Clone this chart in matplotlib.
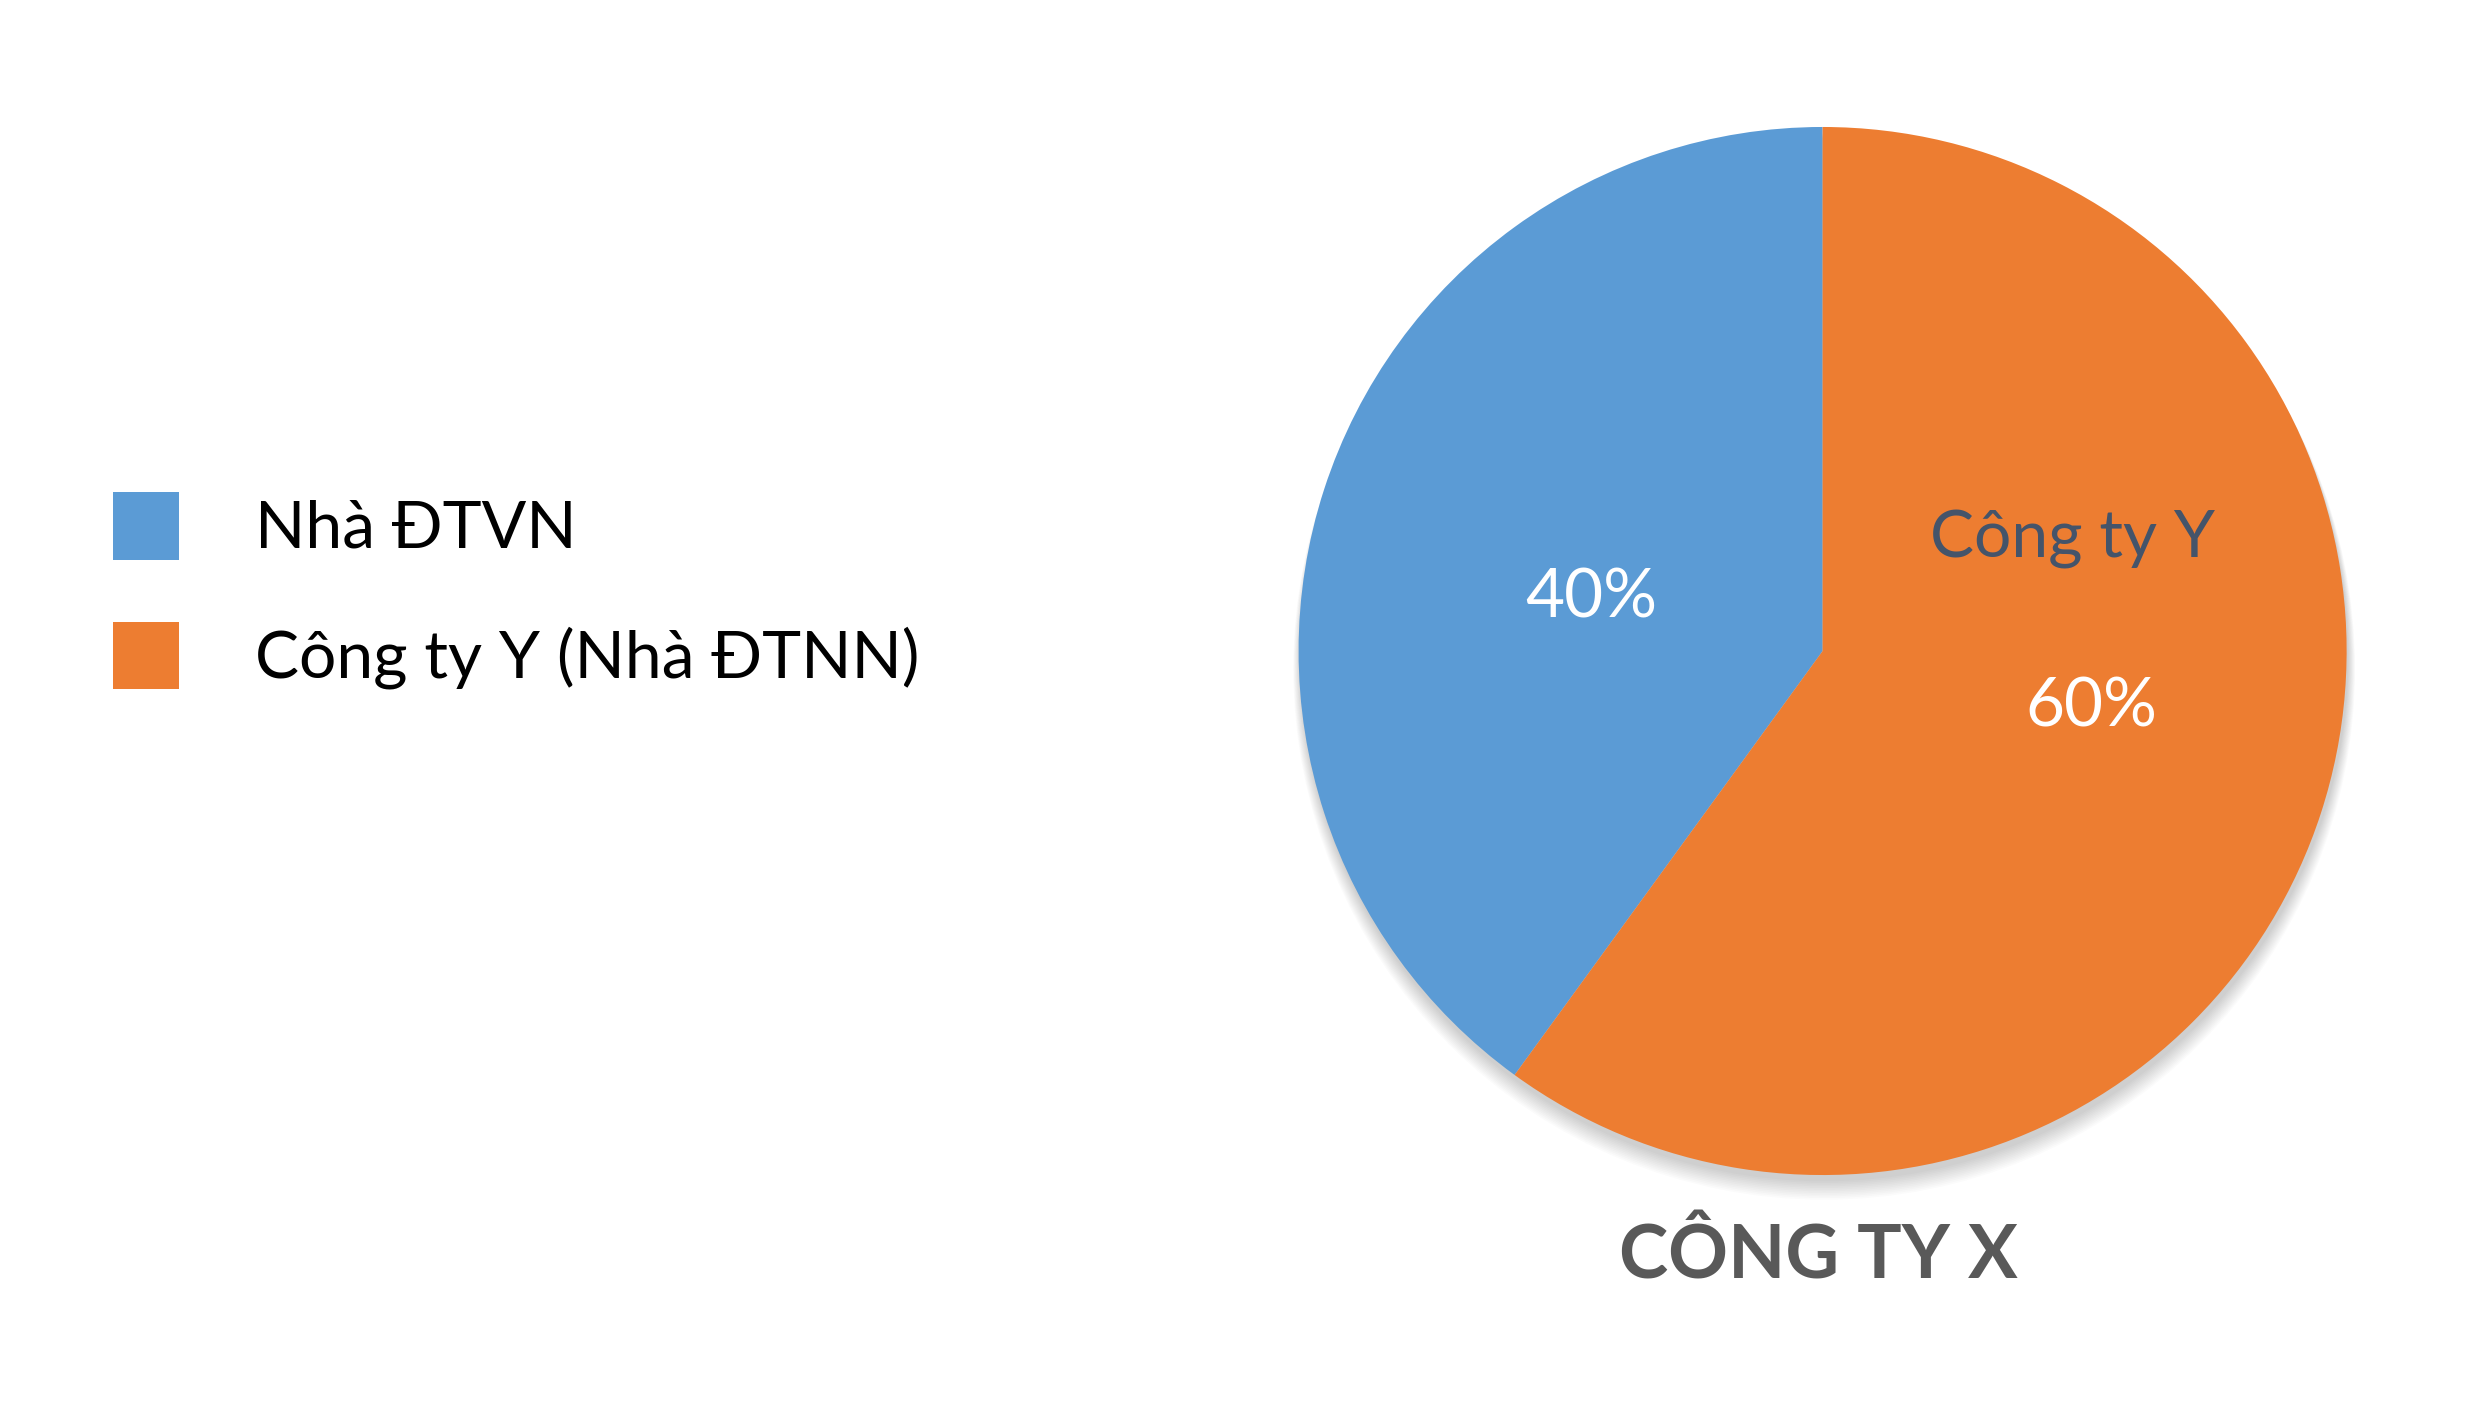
import matplotlib.pyplot as plt
from matplotlib.patches import Circle

categories = ['Nhà ĐTVN', 'Công ty Y (Nhà ĐTNN)']
values = [40, 60]
colors = ['#5B9BD5', '#ED7D31']
title = 'CÔNG TY X'
slice_label = 'Công ty Y'

plt.rcParams['font.family'] = ['Lato', 'DejaVu Sans']

fig = plt.figure(figsize=[24.73, 14.25], dpi=100)
ax = fig.add_axes([0.7370 - 0.2119, 0.5432 - 0.3678, 0.4238, 0.7355])

# soft shadow under the pie, mostly below it
for i in range(12):
    ax.add_patch(Circle((0.003, -0.012 - i * 0.002), 1.0 + i * 0.0012,
                        color='#000000', alpha=0.014, lw=0, zorder=0,
                        clip_on=False))

wedges, texts = ax.pie(values, colors=colors, startangle=90,
                       counterclock=True, radius=1.0,
                       wedgeprops={'linewidth': 0, 'zorder': 2})

pct = ['%d%%' % v for v in values]
ax.text(-0.441, 0.101, pct[0], color='white', fontsize=48.5,
        ha='center', va='center', zorder=5)
ax.text(0.513, -0.107, pct[1], color='white', fontsize=48.5,
        ha='center', va='center', zorder=5)
ax.text(0.477, 0.212, slice_label, color='#44546A', fontsize=47.5,
        ha='center', va='center', zorder=5)

ax.set_xlim(-1, 1)
ax.set_ylim(-1, 1)
ax.set_aspect('equal')
ax.axis('off')

fig.text(0.7352, 0.1179, title, color='#595959', fontsize=53.5,
         fontweight='bold', ha='center', va='center')

fig.legend(wedges, categories, loc='center left',
           bbox_to_anchor=(113 / 2473, 0.5856), frameon=False,
           fontsize=47.5, handlelength=1.0, handleheight=1.2,
           handletextpad=1.15, labelspacing=0.94,
           borderpad=0, borderaxespad=0)

fig.savefig('out.png', dpi=100, facecolor='white')
